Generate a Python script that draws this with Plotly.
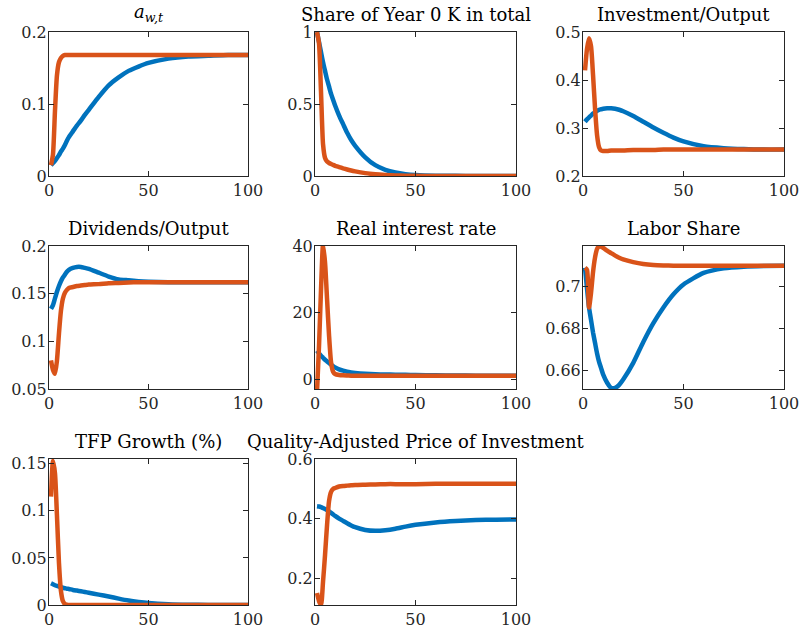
import plotly.graph_objects as go

# ---------------- data ----------------
T = [1, 2, 3, 4, 5, 6, 7, 8, 9, 10, 12, 14, 16, 18, 20, 25, 30, 35, 40, 45, 50, 60, 70, 80, 90, 100]

AW_BLUE = [0.015, 0.018, 0.021, 0.025, 0.029, 0.034, 0.038, 0.043, 0.049, 0.054, 0.062, 0.070, 0.077, 0.085, 0.092,
           0.110, 0.126, 0.137, 0.146, 0.152, 0.157, 0.163, 0.166, 0.167, 0.168, 0.168]
AW_RED = [0.015, 0.030, 0.090, 0.140, 0.158, 0.164, 0.167, 0.168, 0.168, 0.168, 0.168, 0.168, 0.168, 0.168, 0.168,
          0.168, 0.168, 0.168, 0.168, 0.168, 0.168, 0.168, 0.168, 0.168, 0.168, 0.168]

K0_BLUE = [1.0, 0.93, 0.86, 0.79, 0.73, 0.67, 0.62, 0.57, 0.53, 0.49, 0.42, 0.36, 0.30, 0.25, 0.21,
           0.13, 0.075, 0.043, 0.024, 0.013, 0.007, 0.002, 0.001, 0.0, 0.0, 0.0]
K0_RED = [1.0, 0.92, 0.58, 0.22, 0.125, 0.10, 0.09, 0.083, 0.077, 0.071, 0.062, 0.053, 0.045, 0.038, 0.032,
          0.020, 0.012, 0.007, 0.004, 0.002, 0.001, 0.0, 0.0, 0.0, 0.0, 0.0]

IY_BLUE = [0.313, 0.318, 0.322, 0.326, 0.330, 0.333, 0.336, 0.338, 0.339, 0.340, 0.341, 0.341, 0.340, 0.338, 0.335,
           0.325, 0.313, 0.301, 0.290, 0.280, 0.272, 0.262, 0.258, 0.256, 0.255, 0.255]
IY_RED = [0.420, 0.465, 0.487, 0.470, 0.410, 0.340, 0.285, 0.260, 0.253, 0.252, 0.252, 0.253, 0.253, 0.253, 0.253,
          0.254, 0.254, 0.254, 0.255, 0.255, 0.255, 0.255, 0.255, 0.255, 0.255, 0.255]

DY_BLUE = [0.134, 0.138, 0.145, 0.152, 0.158, 0.163, 0.167, 0.170, 0.173, 0.175, 0.177, 0.178, 0.178, 0.177, 0.176,
           0.172, 0.168, 0.165, 0.164, 0.163, 0.1625, 0.162, 0.162, 0.162, 0.162, 0.162]
DY_RED = [0.080, 0.070, 0.066, 0.080, 0.108, 0.132, 0.145, 0.151, 0.154, 0.156, 0.157, 0.158, 0.1585, 0.159, 0.1595,
          0.160, 0.161, 0.1613, 0.1617, 0.162, 0.162, 0.162, 0.162, 0.162, 0.162, 0.162]

R_BLUE = [8.5, 7.7, 7.0, 6.4, 5.8, 5.3, 4.8, 4.3, 3.9, 3.5, 2.9, 2.5, 2.2, 2.0, 1.85,
          1.6, 1.45, 1.35, 1.3, 1.25, 1.2, 1.1, 1.05, 1.0, 1.0, 1.0]
R_RED = [-4.0, 10.0, 27.0, 40.5, 35.0, 24.0, 13.0, 5.0, 2.2, 1.5, 1.2, 1.1, 1.05, 1.0, 1.0,
         1.0, 1.0, 1.0, 1.0, 1.0, 1.0, 1.0, 1.0, 1.0, 1.0, 1.0]

LS_BLUE = [0.709, 0.699, 0.690, 0.684, 0.678, 0.673, 0.668, 0.664, 0.661, 0.658, 0.654, 0.6515, 0.6515, 0.653, 0.6555,
           0.6635, 0.6735, 0.6825, 0.690, 0.6963, 0.701, 0.7065, 0.7087, 0.7095, 0.7098, 0.7099]
LS_RED = [0.709, 0.708, 0.690, 0.697, 0.707, 0.714, 0.718, 0.7194, 0.719, 0.7185, 0.7172, 0.716, 0.7148, 0.7138, 0.713,
          0.7117, 0.7108, 0.7103, 0.7101, 0.710, 0.7099, 0.7099, 0.7099, 0.7099, 0.7099, 0.7099]

TFP_BLUE = [0.023, 0.022, 0.021, 0.0203, 0.0195, 0.019, 0.0183, 0.0178, 0.0173, 0.017, 0.016, 0.0153, 0.0146, 0.0138, 0.013,
            0.011, 0.009, 0.0068, 0.0048, 0.0033, 0.0022, 0.0009, 0.0003, 0.0001, 0.0, 0.0]
TFP_RED = [0.115, 0.153, 0.140, 0.095, 0.045, 0.015, 0.004, 0.001, 0.0003, 0.0, 0.0, 0.0, 0.0, 0.0, 0.0,
           0.0, 0.0, 0.0, 0.0, 0.0, 0.0, 0.0, 0.0, 0.0, 0.0, 0.0]

PI_BLUE = [0.442, 0.441, 0.439, 0.436, 0.433, 0.429, 0.425, 0.420, 0.415, 0.410, 0.401, 0.393, 0.385, 0.378, 0.372,
           0.363, 0.360, 0.362, 0.367, 0.374, 0.380, 0.388, 0.393, 0.396, 0.397, 0.398]
PI_RED = [0.152, 0.125, 0.112, 0.190, 0.280, 0.380, 0.460, 0.490, 0.500, 0.503, 0.508, 0.510, 0.511, 0.512, 0.513,
          0.514, 0.515, 0.516, 0.516, 0.516, 0.516, 0.517, 0.517, 0.517, 0.517, 0.517]

TITLES = ["<i>a</i><sub><i>w,t</i></sub>", "Share of Year 0 K in total", "Investment/Output",
          "Dividends/Output", "Real interest rate", "Labor Share",
          "TFP Growth (%)", "Quality-Adjusted Price of Investment"]
SERIES = [(AW_BLUE, AW_RED), (K0_BLUE, K0_RED), (IY_BLUE, IY_RED),
          (DY_BLUE, DY_RED), (R_BLUE, R_RED), (LS_BLUE, LS_RED),
          (TFP_BLUE, TFP_RED), (PI_BLUE, PI_RED)]
Y_RANGES = [[0, 0.2], [0, 1], [0.2, 0.5], [0.05, 0.2], [-3, 40], [0.651, 0.7194], [0, 0.155], [0.112, 0.6]]
Y_TICKS = [[0, 0.1, 0.2], [0, 0.5, 1], [0.2, 0.3, 0.4, 0.5], [0.05, 0.1, 0.15, 0.2], [0, 20, 40],
           [0.66, 0.68, 0.7], [0, 0.05, 0.1, 0.15], [0.2, 0.4, 0.6]]
X_TICKS = [0, 50, 100]

BLUE = "#0072BD"
ORANGE = "#D95319"
AXC = "#262626"

# ---------------- layout geometry (pixels) ----------------
W, H = 799, 631
COLS = [(49, 248), (315, 516), (583, 784)]
ROWS = [(32, 176), (246, 389), (459, 605)]
FONT = "DejaVu Serif"

fig = go.Figure()
layout = dict(width=W, height=H, margin=dict(l=0, r=0, t=0, b=0, pad=0, autoexpand=False),
              autosize=False,
              paper_bgcolor="white", plot_bgcolor="white", showlegend=False,
              font=dict(family=FONT, color=AXC))
annotations = []
for i, ((yb, yr), title) in enumerate(zip(SERIES, TITLES)):
    r, c = divmod(i, 3)
    n = "" if i == 0 else str(i + 1)
    x0, x1 = COLS[c]
    top, bot = ROWS[r]
    xa = "x" + n
    ya = "y" + n
    fig.add_trace(go.Scatter(x=T, y=yb, mode="lines",
                             line=dict(color=BLUE, width=4.5, shape="spline", smoothing=0.6),
                             xaxis=xa, yaxis=ya, cliponaxis=True))
    fig.add_trace(go.Scatter(x=T, y=yr, mode="lines",
                             line=dict(color=ORANGE, width=4.5, shape="spline", smoothing=0.6),
                             xaxis=xa, yaxis=ya, cliponaxis=True))
    common = dict(showline=True, linecolor=AXC, linewidth=1, mirror="ticks", ticks="inside",
                  ticklen=5, tickcolor=AXC, tickwidth=1, showgrid=False, zeroline=False,
                  automargin=False, ticklabeloverflow="allow",
                  tickfont=dict(family=FONT, size=16, color=AXC))
    layout["xaxis" + n] = dict(domain=[x0 / W, x1 / W], anchor=ya, range=[0, 100],
                               tickvals=X_TICKS, ticktext=[str(v) for v in X_TICKS], **common)
    layout["yaxis" + n] = dict(domain=[1 - bot / H, 1 - top / H], anchor=xa, range=Y_RANGES[i],
                               tickvals=Y_TICKS[i], ticktext=[f"{v:g}" for v in Y_TICKS[i]],
                               ticklabelstandoff=-2, **common)
    annotations.append(dict(text=title, x=(x0 + x1) / 2 / W, y=1 - top / H, xref="paper", yref="paper",
                            xanchor="center", yanchor="bottom", yshift=5, showarrow=False,
                            font=dict(family=FONT, size=18, color="black")))
layout["annotations"] = annotations
fig.update_layout(**layout)
fig.write_html("out.html")
